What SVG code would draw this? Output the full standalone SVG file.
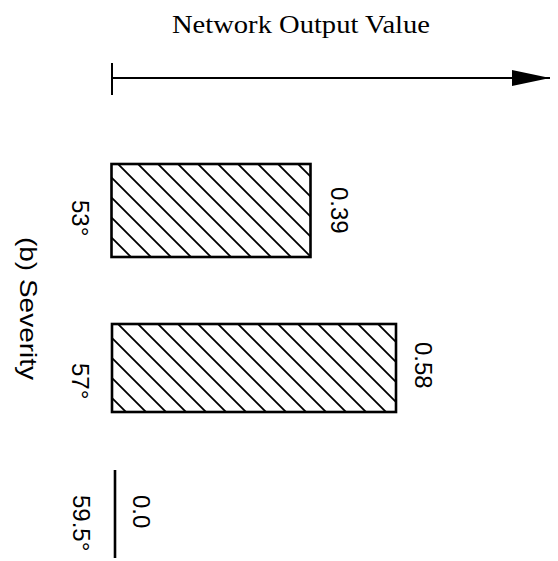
<svg xmlns="http://www.w3.org/2000/svg" width="558" height="561" viewBox="0 0 558 561">
  <style>
    .lbl { font-family: "Liberation Sans", Arial, sans-serif; font-size: 24px; fill: #000; }
    .title { font-family: "Liberation Serif", "Times New Roman", serif; font-size: 26px; fill: #000; }
    .bar { fill: url(#hatch); stroke: #000; stroke-width: 2.6; }
    .axis { stroke: #000; stroke-width: 2; fill: none; }
  </style>
  <defs>
    <pattern id="hatch" patternUnits="userSpaceOnUse" x="14" y="0" width="20" height="20">
      <path d="M0,0 L20,20 M-5,15 L5,25 M15,-5 L25,5" stroke="#000" stroke-width="1.8"/>
    </pattern>
    <marker id="arrow" markerUnits="userSpaceOnUse" markerWidth="40" markerHeight="18" refX="38" refY="8" orient="auto">
      <polygon points="0,0 38,8 0,16" fill="#000"/>
    </marker>
  </defs>

  <g id="title">
    <text class="title" x="172" y="33" textLength="258" lengthAdjust="spacingAndGlyphs">Network  Output Value</text>
  </g>

  <g id="connectors">
    <line class="axis" x1="112" y1="63" x2="112" y2="95"/>
    <line class="axis" x1="112" y1="78" x2="550" y2="78" marker-end="url(#arrow)"/>
  </g>

  <g id="axis-label">
    <text class="lbl" transform="translate(20,237) rotate(90)" textLength="143" lengthAdjust="spacingAndGlyphs">(b)  Severity</text>
  </g>

  <g id="bar-53">
    <rect class="bar" x="111.5" y="164" width="199" height="93"/>
    <text class="lbl" transform="translate(72,200) rotate(90)">53°</text>
    <text class="lbl" transform="translate(331,187) rotate(90)">0.39</text>
  </g>

  <g id="bar-57">
    <rect class="bar" x="112" y="324" width="284" height="88"/>
    <text class="lbl" transform="translate(72,363) rotate(90)">57°</text>
    <text class="lbl" transform="translate(415,342) rotate(90)">0.58</text>
  </g>

  <g id="bar-59-5">
    <line x1="115" y1="470" x2="115" y2="558" stroke="#000" stroke-width="2.6"/>
    <text class="lbl" transform="translate(73,495) rotate(90)">59.5°</text>
    <text class="lbl" transform="translate(133,495) rotate(90)">0.0</text>
  </g>
</svg>
